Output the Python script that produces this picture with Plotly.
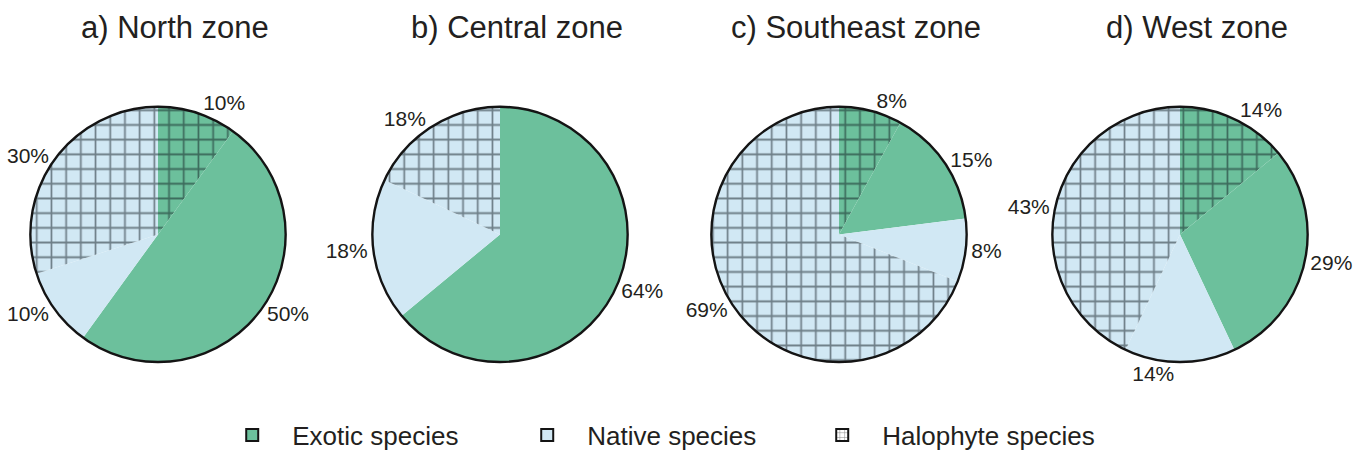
import plotly.graph_objects as go

# ---------------- data ----------------
zones = ["a) North zone", "b) Central zone", "c) Southeast zone", "d) West zone"]
categories = ["Exotic halophyte", "Exotic species", "Native species", "Native halophyte"]
north = [10, 50, 10, 30]
central = [0, 64, 18, 18]
southeast = [8, 15, 8, 69]
west = [14, 29, 14, 43]
legend_names = ["Exotic species", "Native species", "Halophyte species"]

# ---------------- style ----------------
GREEN = "#6CC09C"
BLUE = "#D1E8F4"
HATCH = "#0C151C"
EDGE = "#141414"
TXT = "#231F20"
FONT = "Liberation Sans, Arial, sans-serif"

cat_color = {"Exotic halophyte": GREEN, "Exotic species": GREEN,
             "Native species": BLUE, "Native halophyte": BLUE}
cat_shape = {"Exotic halophyte": "+", "Exotic species": "",
             "Native species": "", "Native halophyte": "+"}

W, H = 1364, 459
centers_x = [158, 500, 839, 1180]
cy = 237
R = 129
title_dx = 17
title_y = 28

fig = go.Figure()
series = [north, central, southeast, west]
for zi, (name, vals) in enumerate(zip(zones, series)):
    labs = [c for c, v in zip(categories, vals) if v > 0]
    vv = [v for v in vals if v > 0]
    cx = centers_x[zi]
    dom = dict(x=[(cx - R) / W, (cx + R) / W],
               y=[(H - cy - R) / H, (H - cy + R) / H])
    cols = [cat_color[c] for c in labs]
    fig.add_trace(go.Pie(
        labels=labs, values=vv, sort=False, direction="clockwise", rotation=0,
        domain=dom, textinfo="percent", textposition="outside",
        textfont=dict(family=FONT, size=21, color=TXT),
        marker=dict(colors=cols, line=dict(width=0),
                    pattern=dict(shape=[cat_shape[c] for c in labs],
                                 fgcolor=HATCH, bgcolor=cols,
                                 fillmode="overlay", size=14.7, solidity=0.22)),
        showlegend=False, name=name, hovertemplate="%{label}: %{percent}<extra></extra>",
    ))
    # outer ring
    fig.add_trace(go.Pie(
        values=[1], labels=["outline"], domain=dom, sort=False,
        marker=dict(colors=["rgba(0,0,0,0)"], line=dict(color=EDGE, width=2.4)),
        textinfo="none", hoverinfo="skip", showlegend=False,
    ))
    fig.add_annotation(text=name, x=(cx + title_dx) / W, y=1 - title_y / H,
                       xref="paper", yref="paper", showarrow=False,
                       xanchor="center", yanchor="middle",
                       font=dict(family=FONT, size=31, color=TXT))

# legend entries
leg_colors = [GREEN, BLUE, "white"]
leg_shapes = ["", "", "+"]
for nm, c, s in zip(legend_names, leg_colors, leg_shapes):
    fig.add_trace(go.Bar(
        x=[None], y=[None], name=nm,
        marker=dict(color=c, line=dict(color=EDGE, width=2),
                    pattern=dict(shape=s, fgcolor=EDGE, size=6, solidity=0.2)),
        showlegend=True,
    ))

fig.update_layout(
    width=W, height=H,
    margin=dict(l=0, r=0, t=0, b=0),
    paper_bgcolor="white", plot_bgcolor="white",
    xaxis=dict(visible=False), yaxis=dict(visible=False),
    showlegend=True,
    legend=dict(orientation="h", x=0.48, xanchor="center", y=19 / H, yanchor="middle",
                font=dict(family=FONT, size=26, color=TXT),
                itemwidth=70, entrywidth=210, bgcolor="rgba(0,0,0,0)"),
)

fig.write_html("out.html", config={"displayModeBar": False},
               post_script="document.body.style.margin='0';document.body.style.overflow='hidden';")
